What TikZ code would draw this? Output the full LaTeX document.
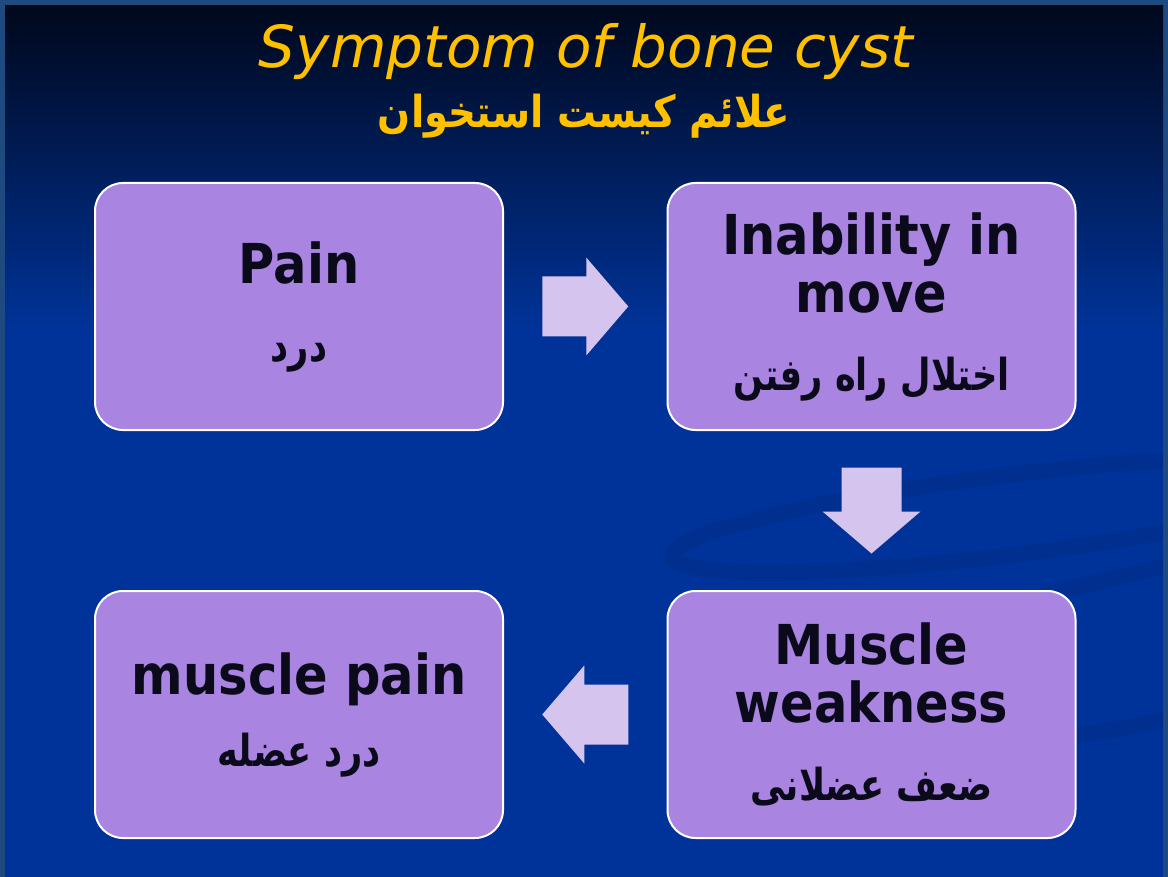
\documentclass[tikz,border=0pt]{standalone}
\usepackage{fontspec}
\setmainfont{DejaVu Sans}
\newfontfamily\titlefont{DejaVu Sans}
\newfontfamily\boxfont[FakeStretch=0.9]{DejaVu Sans}
\newfontfamily\arabicfont[Script=Arabic,FakeStretch=0.8]{DejaVu Sans}
\newfontfamily\arabictitle[Script=Arabic,FakeStretch=0.88]{DejaVu Sans}
\TeXXeTstate=1
\definecolor{frame}{HTML}{1F4A80}
\definecolor{skytop}{HTML}{00081C}
\definecolor{skybot}{HTML}{003399}
\definecolor{boxfill}{HTML}{A984E0}
\definecolor{arrowfill}{HTML}{D4C4EE}
\definecolor{titlegold}{HTML}{FFC000}
\definecolor{ink}{HTML}{0A0A1A}

\begin{document}
\begin{tikzpicture}[x=1pt,y=-1pt,line join=round,
  symbox/.style={draw=white,line width=2pt,fill=boxfill,rounded corners=28pt,
    minimum width=408pt,minimum height=247pt,text=ink,align=center,
    font=\boxfont\bfseries\fontsize{55}{58}\selectfont},
  swoosh/.style={draw=skytop,opacity=.08,line width=16pt},
  blockarrow/.pic={\fill[arrowfill] (-43,-30) -- (1,-30) -- (1,-49) -- (43,0)
    -- (1,49) -- (1,30) -- (-43,30) -- cycle;}]
  \useasboundingbox (0,0) rectangle (1168,877);
  \fill[frame] (0,0) rectangle (1168,877);
  \shade[top color=skytop,bottom color=skybot] (5,6) rectangle (1163,331);
  \fill[skybot] (5,330) rectangle (1163,877);
  \begin{scope}
    \clip (5,330) rectangle (1163,877);
    \draw[swoosh] (1010,515) ellipse [x radius=340,y radius=40,rotate=7];
    \draw[swoosh] (1180,640) ellipse [x radius=430,y radius=75,rotate=12];
  \end{scope}

  \node[anchor=base,text=titlegold,font=\titlefont\itshape\fontsize{58}{58}\selectfont]
    (title) at (586,68) {Symptom of bone cyst};
  \node[anchor=base,text=titlegold,font=\arabictitle\bfseries\fontsize{44}{44}\selectfont]
    (subtitle) at (584,128) {\beginR علائم کیست استخوان\endR};

  \node[symbox] (pain) at (299,306.5)
    {Pain\\[20pt]{\arabicfont\fontsize{44}{44}\selectfont\beginR درد\endR}};
  \node[symbox] (inab) at (871.5,306.5)
    {Inability in\\move\\[20pt]{\arabicfont\fontsize{44}{44}\selectfont\beginR اختلال راه رفتن\endR}};
  \node[symbox] (weak) at (871.5,714.5)
    {Muscle\\weakness\\[20pt]{\arabicfont\fontsize{44}{44}\selectfont\beginR ضعف عضلانی\endR}};
  \node[symbox] (mpain) at (299,714.5)
    {muscle pain\\[14pt]{\arabicfont\fontsize{44}{44}\selectfont\beginR درد عضله\endR}};

  \path (pain) -- (inab) coordinate[midway] (m1);
  \path (inab) -- (weak) coordinate[midway] (m2);
  \path (weak) -- (mpain) coordinate[midway] (m3);
  \pic at (m1) {blockarrow};
  \pic[rotate=-90] at (m2) {blockarrow};
  \pic[rotate=180] at (m3) {blockarrow};
\end{tikzpicture}
\end{document}
